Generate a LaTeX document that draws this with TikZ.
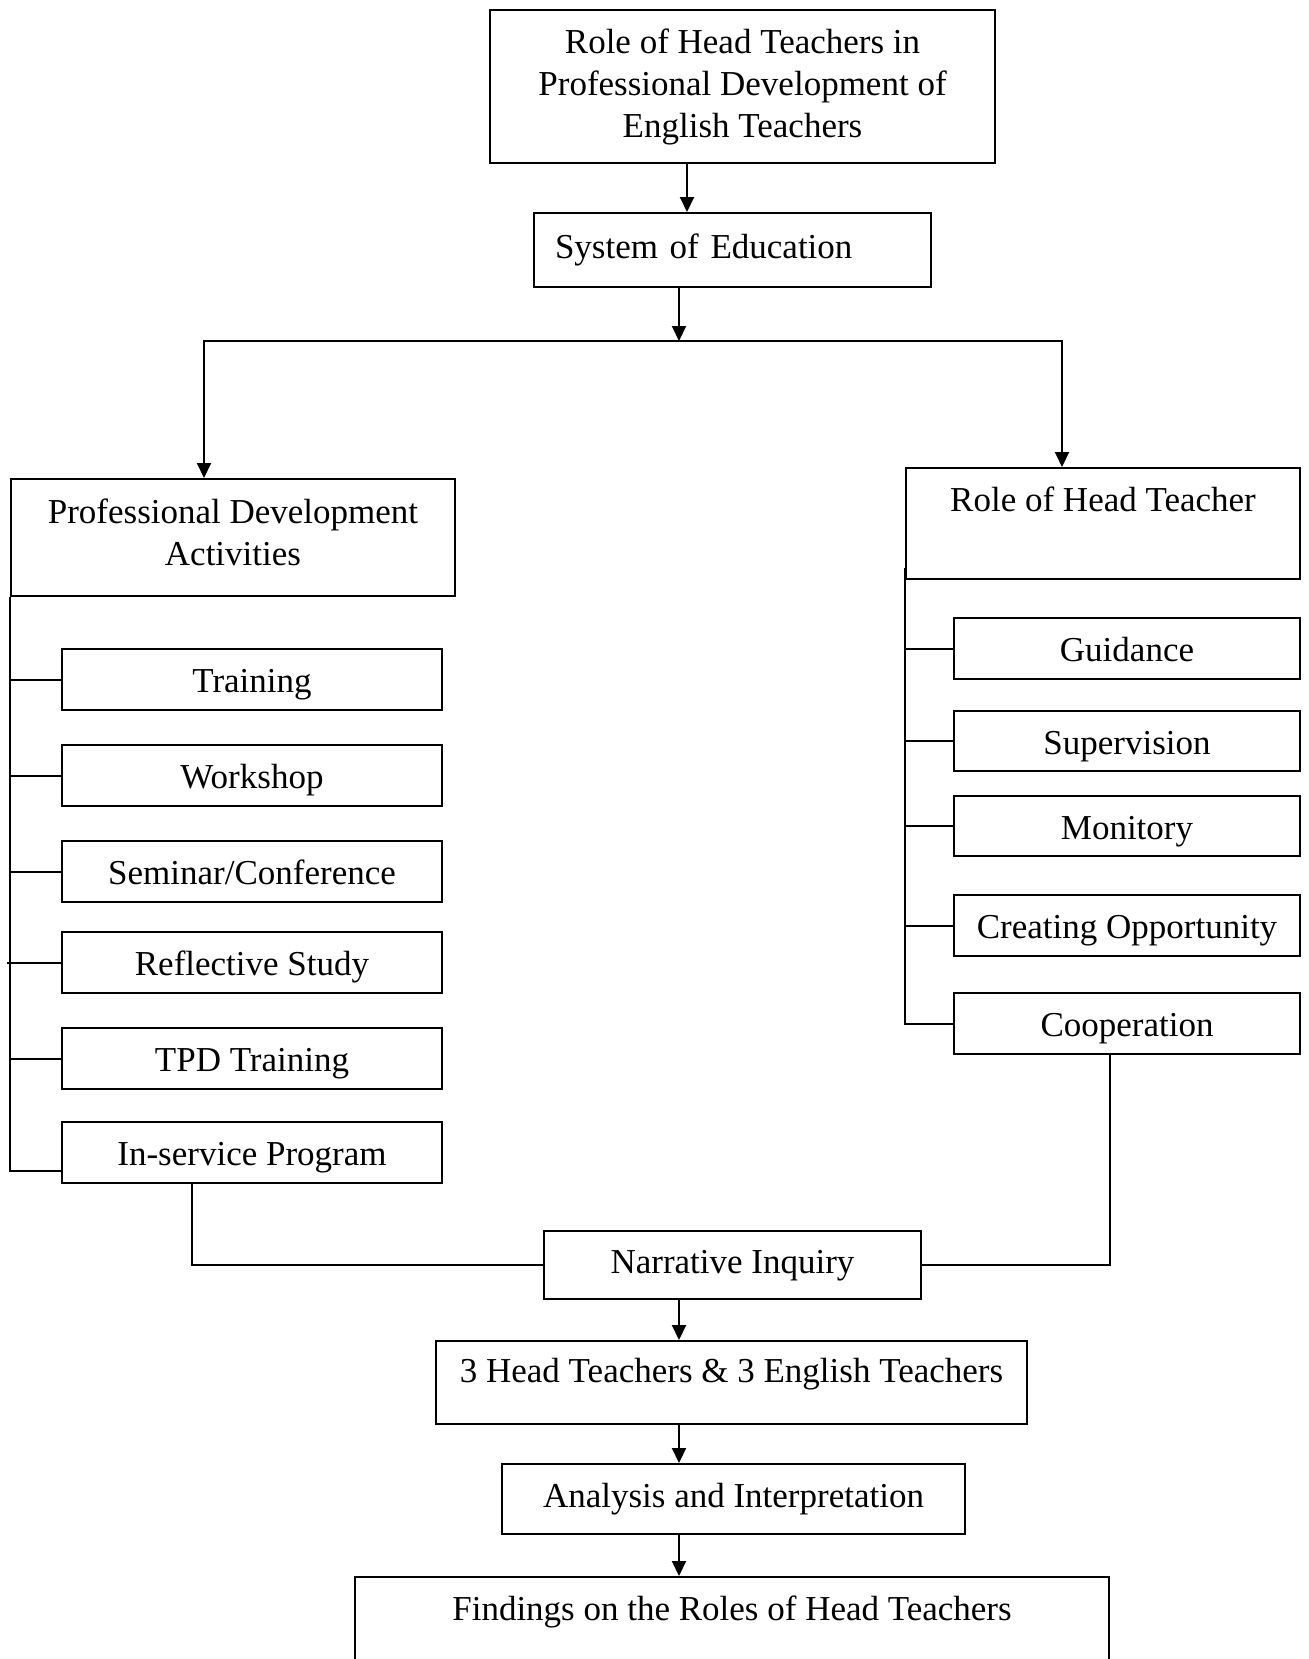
\documentclass[tikz,border=0pt]{standalone}
\usepackage{fontspec}
\setmainfont{Liberation Serif}
\usetikzlibrary{arrows.meta}

\tikzset{
  box/.style={draw,line width=1pt,inner sep=0pt,font=\fontsize{17.5}{21}\selectfont},
  oneline/.style={text height=12pt,text depth=3.8pt},
  item/.style={box,text height=15pt,text depth=1.8pt,minimum height=30.5pt},
  arr/.style={line width=1pt,-{Triangle[length=7.5pt,width=7pt]}},
  link/.style={line width=1pt}
}

\begin{document}
\begin{tikzpicture}[x=0.5pt,y=-0.5pt]
  \useasboundingbox (0,0) rectangle (1308,1659);
  \clip (0,0) rectangle (1308,1659);
  % main column
  \node[box,align=center,minimum width=252.5pt,minimum height=76.5pt] (roles) at (742.5,86.5) {Role of Head Teachers in\\Professional Development of\\English Teachers};
  \node[box,oneline,align=left,text width=177.5pt,inner xsep=10.5pt,minimum height=37pt] (sys) at (732.5,250) {System of Education};
  \coordinate (split) at (679,341);
  % two branches
  \node[box,align=center,minimum width=222pt,minimum height=58.5pt] (pda) at (233,537.5) {Professional Development\\Activities\\[-15.5pt]};
  \node[box,minimum width=197pt,text height=21.6pt,text depth=33.9pt] (rht) at (1103,523.5) {Role of Head Teacher};
  % activities
  \node[item,minimum width=190pt] (train) at (252,679.5) {Training};
  \node[item,minimum width=190pt] (work) at (252,775.5) {Workshop};
  \node[item,minimum width=190pt] (sem) at (252,871.5) {Seminar/Conference};
  \node[item,minimum width=190pt] (refl) at (252,962.5) {Reflective Study};
  \node[item,minimum width=190pt] (tpd) at (252,1058.5) {TPD Training};
  \node[item,minimum width=190pt] (inserv) at (252,1152) {In-service Program};
  % roles
  \node[item,minimum width=173pt] (guid) at (1127,648.5) {Guidance};
  \node[item,minimum width=173pt,minimum height=30pt] (sup) at (1127,741) {Supervision};
  \node[item,minimum width=173pt,minimum height=30pt] (mon) at (1127,826) {Monitory};
  \node[item,minimum width=173pt] (opp) at (1127,925.5) {Creating Opportunity};
  \node[item,minimum width=173pt] (coop) at (1127,1023.5) {Cooperation};
  % study
  \node[box,oneline,minimum width=188.5pt,minimum height=34pt] (ni) at (732.5,1265) {Narrative Inquiry};
  \node[box,minimum width=295.5pt,text height=20.6pt,text depth=20.9pt] (part) at (731.5,1382.5) {3 Head Teachers \& 3 English Teachers};
  \node[box,oneline,minimum width=231.5pt,minimum height=35pt] (ana) at (733.5,1499) {Analysis and Interpretation};
  \node[box,minimum width=377pt,text height=21.6pt,text depth=53.4pt] (find) at (732,1652) {Findings on the Roles of Head Teachers};

  \draw[arr] ([xshift=4pt]roles.south -| split) -- ([xshift=4pt]sys.north -| split);
  \draw[arr] (sys.south -| split) -- (split);
  \draw[arr] (split) -| ([xshift=-14.5pt]pda.north);
  \draw[arr] (split) -| ([xshift=-20.5pt]rht.north);

  \draw[link] (pda.south west) |- ([yshift=-9.5pt]inserv.west);
  \foreach \b in {train,work,sem,tpd}
    \draw[link] (pda.south west |- \b.west) -- (\b.west);
  \draw[link] ([xshift=-1.5pt]pda.south west |- refl.west) -- (refl.west);
  \draw[link] ([yshift=6pt]rht.south west) |- (coop.west);
  \foreach \b in {guid,sup,mon,opp}
    \draw[link] (rht.south west |- \b.west) -- (\b.west);

  \draw[link] ([xshift=65.5pt]inserv.south west) |- (ni.west);
  \draw[link] (ni.east) -| ([xshift=-8.5pt]coop.south);
  \draw[arr] (ni.south -| split) -- (part.north -| split);
  \draw[arr] (part.south -| split) -- (ana.north -| split);
  \draw[arr] (ana.south -| split) -- (find.north -| split);
\end{tikzpicture}
\end{document}
